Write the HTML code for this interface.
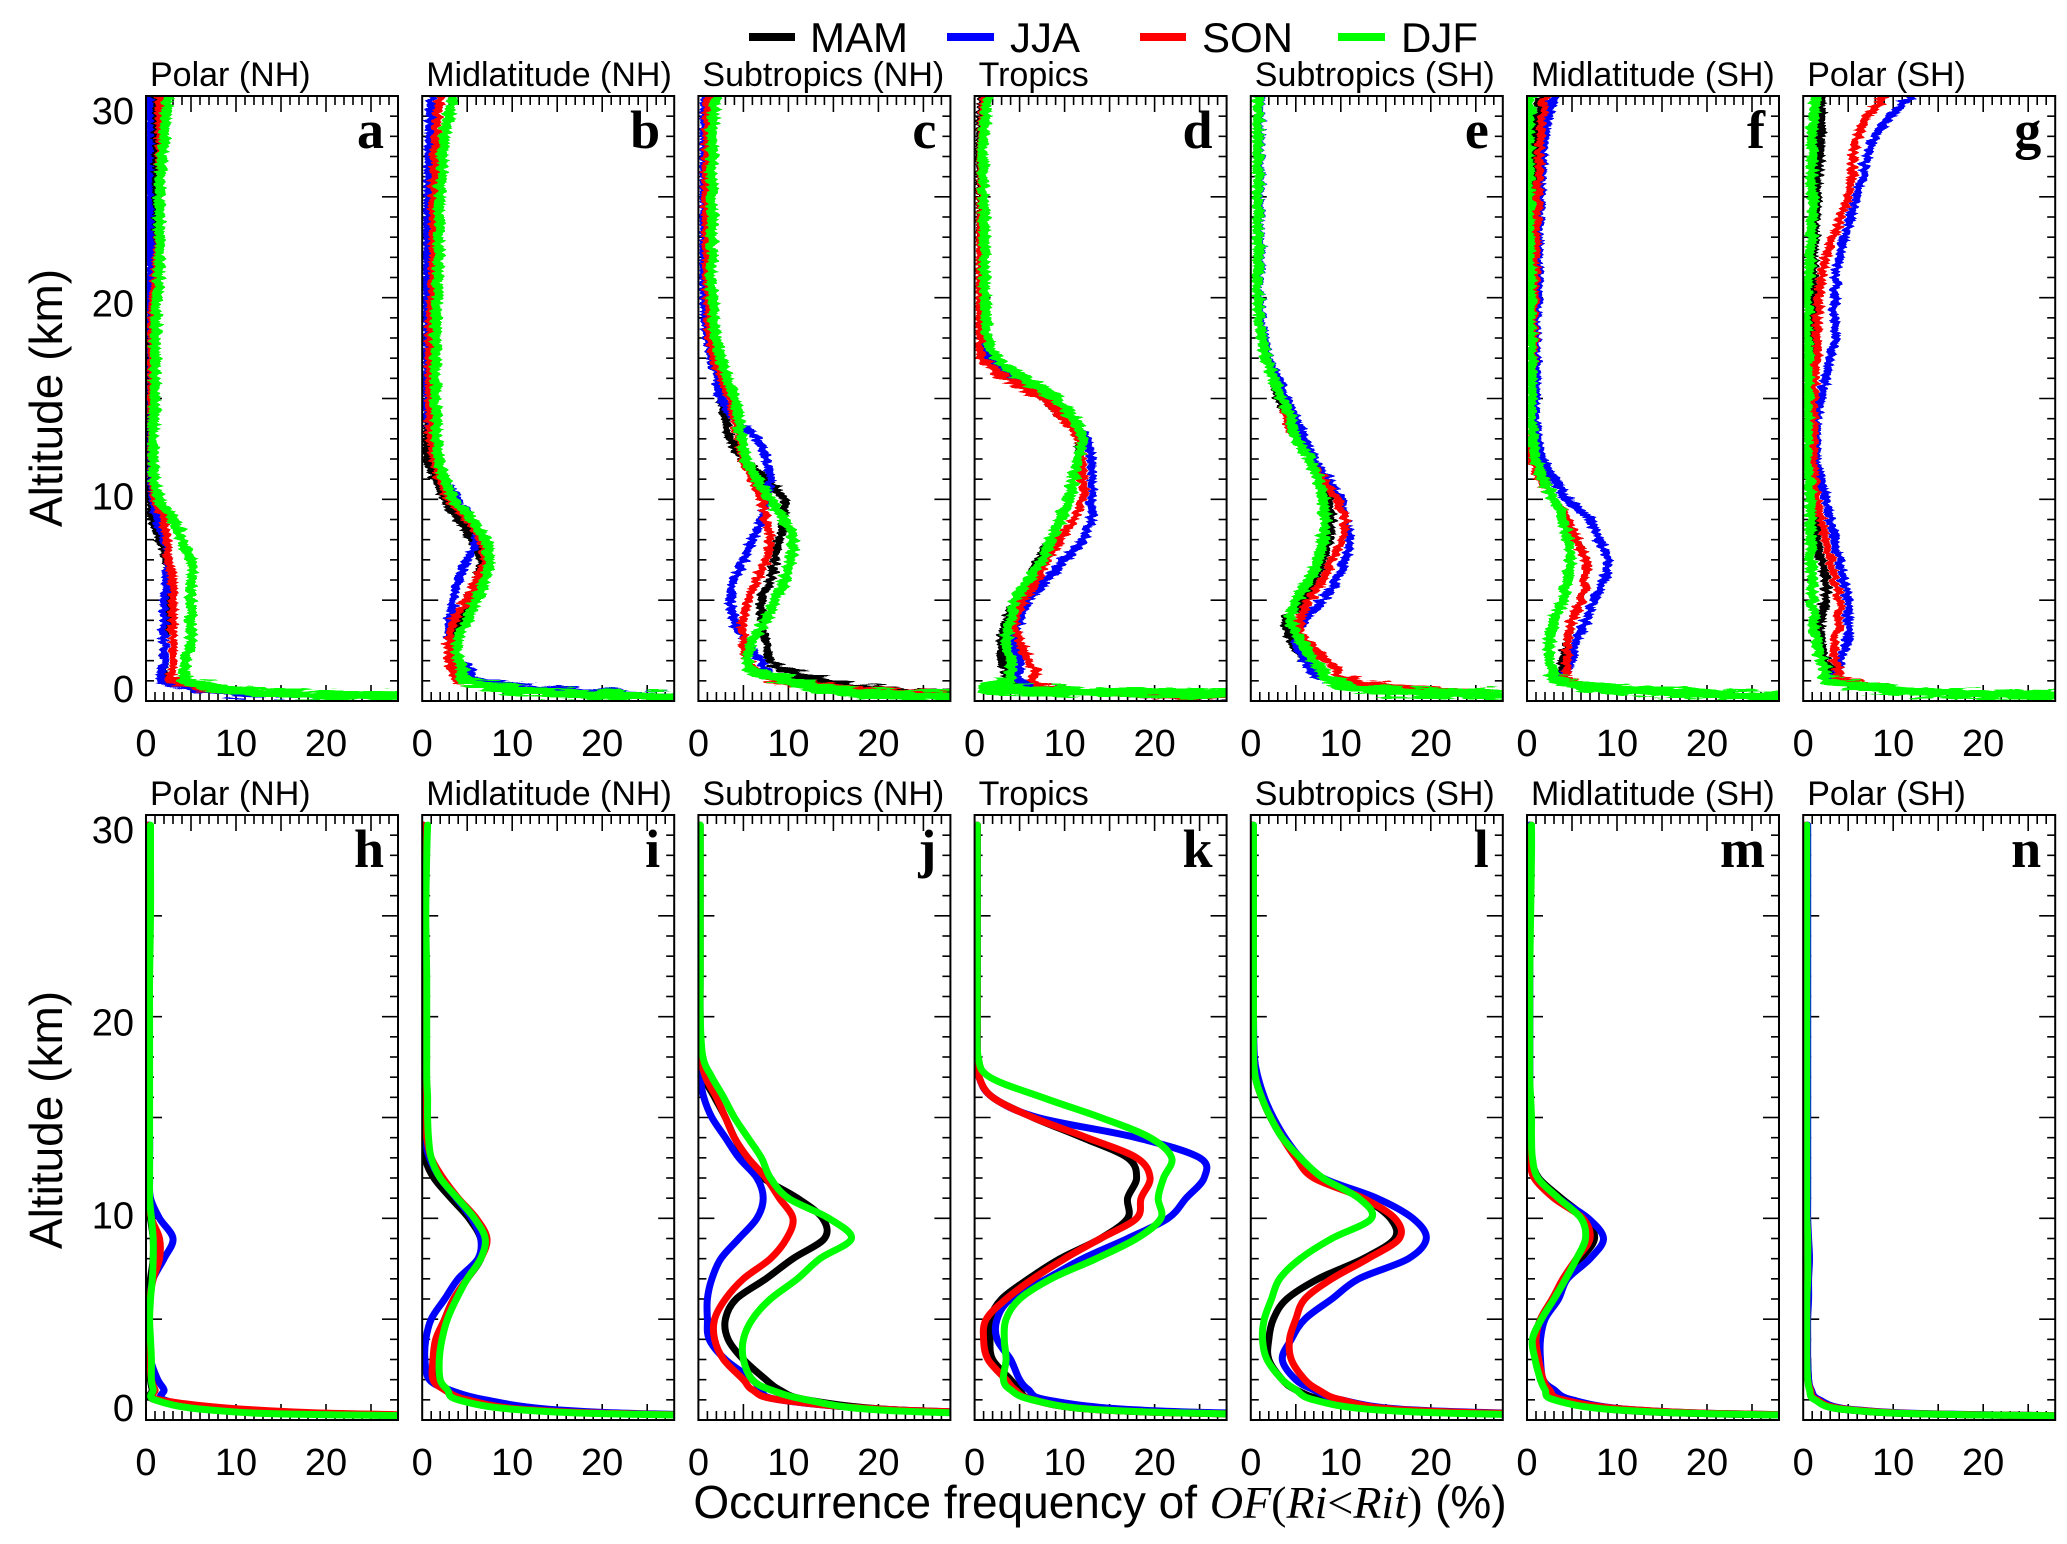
<!DOCTYPE html>
<html><head><meta charset="utf-8">
<style>
html,body{margin:0;padding:0;background:#fff;}
svg{display:block;font-family:"Liberation Sans",sans-serif;}
</style></head>
<body>
<svg id="fig" width="2067" height="1544" viewBox="0 0 2067 1544" xmlns="http://www.w3.org/2000/svg">
<defs>
<filter id="jag" x="-10%" y="-5%" width="120%" height="110%">
<feTurbulence type="fractalNoise" baseFrequency="0.04 0.35" numOctaves="2" seed="3" result="t"/>
<feDisplacementMap in="SourceGraphic" in2="t" scale="11" xChannelSelector="R" yChannelSelector="G"/>
</filter>
</defs>
<g id="legend">
<line x1="749" y1="37" x2="795" y2="37" stroke="#000" stroke-width="8"/>
<text x="810" y="52" font-size="42">MAM</text>
<line x1="947" y1="37" x2="994" y2="37" stroke="#0000ff" stroke-width="8"/>
<text x="1010" y="52" font-size="42">JJA</text>
<line x1="1140" y1="37" x2="1186" y2="37" stroke="#ff0000" stroke-width="8"/>
<text x="1202" y="52" font-size="42">SON</text>
<line x1="1338" y1="37" x2="1385" y2="37" stroke="#00ff00" stroke-width="8"/>
<text x="1401" y="52" font-size="42">DJF</text>
</g>
<text transform="translate(62,398) rotate(-90)" text-anchor="middle" font-size="46">Altitude (km)</text>
<text transform="translate(62,1120) rotate(-90)" text-anchor="middle" font-size="46">Altitude (km)</text>
<text x="1100" y="1518" text-anchor="middle" font-size="46">Occurrence frequency of <tspan font-family="Liberation Serif, serif" font-style="italic">OF</tspan><tspan font-family="Liberation Serif, serif">(</tspan><tspan font-family="Liberation Serif, serif" font-style="italic">Ri</tspan><tspan font-family="Liberation Serif, serif">&lt;</tspan><tspan font-family="Liberation Serif, serif" font-style="italic">Rit</tspan><tspan font-family="Liberation Serif, serif">)</tspan> (%)</text>
<g id="panels"></g>
</svg>
<script>
// Altitude levels (km)
const levelsTop = [0,0.25,0.5,1,1.5,2,3,4,5,6,7,8,9,10,11,12,13,14,15,16,17,18,20,22,25,28,30];
const levelsBot = [0,0.25,0.5,1,1.5,2,3,4,5,6,7,8,9,10,11,12,13,14,15,16,17,18,20,22,25,28,29.5];
const seasons = ["MAM","JJA","SON","DJF"];
const xTicks = [0,10,20];
const yTicks = [0,10,20,30];
const regionTitles = ["Polar (NH)","Midlatitude (NH)","Subtropics (NH)","Tropics","Subtropics (SH)","Midlatitude (SH)","Polar (SH)"];
const panelLetters = ["a","b","c","d","e","f","g","h","i","j","k","l","m","n"];

// Top row (raw)
const a_MAM=[80,22,10,3,2,2,2,2.3,2.5,2.5,2.3,1.5,0.7,0.4,0.3,0.3,0.3,0.3,0.3,0.3,0.3,0.3,0.4,0.5,0.6,0.8,1];
const a_JJA=[80,20,8,2,1.8,2,2,2,2,2.3,2.5,2,1.2,0.8,0.5,0.5,0.5,0.5,0.5,0.5,0.5,0.5,0.4,0.4,0.3,0.3,0.4];
const a_SON=[80,24,10,3,3,3,3,3,3,3,2.5,2.3,2,1,0.7,0.6,0.6,0.6,0.6,0.6,0.6,0.6,0.8,1.2,1.5,1.5,1.5];
const a_DJF=[80,25,11,4.5,4.5,4.5,5,5,5,5,5,4,3,1.5,0.9,0.8,0.8,0.8,1,1,1,1,1.2,1.5,1.5,2,2.5];
const b_MAM=[80,28,14,5,4.5,4,3.5,4,5,6,6.5,5.5,4,2.5,1.5,0.5,0.5,0.5,0.5,0.5,0.5,0.6,0.6,0.7,0.8,0.9,1];
const b_JJA=[80,32,16,6,5.5,4,3,3,3.5,4,5,6,5.5,4,2.5,1.5,1,0.6,0.5,0.5,0.5,0.5,0.5,0.5,0.6,0.8,1];
const b_SON=[80,26,12,4.5,3.5,3,3,3.5,5,6,7,6.5,5,3,2,1.3,0.9,0.8,0.8,0.8,0.8,0.8,1,1.2,1.2,1.5,2];
const b_DJF=[80,25,12,5,4.5,4,4,5,6,7,7.5,7,5.5,3.5,2.5,1.8,1.6,1.5,1.5,1.5,1.5,1.5,1.6,1.8,2,2.5,3.5];
const c_MAM=[80,40,22,14,10,8,7.5,7,7,8,8.5,9,9.5,9.5,7.5,5,3.5,3,2.5,2,1.5,1.2,1,1,1,1,1];
const c_JJA=[80,36,18,10,7.5,7,5,4,3.5,4,5,6,7,7.5,8,7.5,6.5,4,2.5,2,1.5,1,0.6,0.6,0.6,0.6,0.7];
const c_SON=[80,38,20,9,6.5,5.5,5,5,5.5,6.5,7.5,8,7.5,7,6,5,4.5,4,3.5,2.5,1.8,1.3,1,0.9,0.8,0.9,1];
const c_DJF=[80,30,16,10,6,5.5,6,7.5,8.5,9.5,10.3,10.5,9.5,8,6.5,5.3,4.8,4.5,4,3.2,2.5,2,1.5,1.5,1.5,1.5,2];
const d_MAM=[80,30,10,4,3.5,3,3,3.5,4.5,6,7,8.5,9.5,10.5,11,11.5,11.5,10,7.5,4,1.5,0.8,0.6,0.6,0.6,0.6,0.8];
const d_JJA=[80,30,10,5,5,5,4.5,5,6,8,10,12,13,13,13,13,12.5,10.5,7.5,4,1.2,0.8,0.7,0.7,0.8,0.8,1];
const d_SON=[80,30,10,6.5,7,6,5,4.5,5.5,7,8,9.5,11,12,12,12,11.5,10,7.5,3.5,0.8,0.6,0.6,0.6,0.7,0.8,1];
const d_DJF=[80,60,5.5,4,4,4,3.5,4,4.5,6,7.5,8.5,9.5,10.5,11,11.5,12,11,9,5.5,2.5,1.5,1.2,1.1,1,1,1.5];
const e_MAM=[80,35,16,9,7,6,4.5,4,6,7,8,8.5,9,8.5,7.5,6.5,5.5,4.5,3,2.5,1.8,1.2,0.8,0.8,0.8,0.8,0.8];
const e_JJA=[80,35,16,9,7,6,5,6,8,9.5,10.5,11,10.5,10,8.5,7,6,5,4,3,2,1.5,1,1,1,1,1];
const e_SON=[80,38,20,11,9.5,8.5,6,5.5,6.5,8,9,10,10.5,9.5,8,6.5,5,4,3.5,2.5,1.8,1.2,0.8,0.8,0.8,0.8,0.8];
const e_DJF=[80,35,15,9,8,7,5.5,4.5,5,6.5,7.5,8,8.3,8,7.5,6.5,5,4.5,3.5,2.5,1.8,1.2,0.8,0.8,0.8,0.8,0.8];
const f_MAM=[80,30,12,4,4,4,4.5,5,6,6.5,6.5,5.5,4,3,2,1.2,0.8,0.8,0.8,0.8,0.8,0.8,0.8,0.7,0.7,1,1.5];
const f_JJA=[80,30,12,4,4.5,5,5.5,6.5,7.5,8.5,9,8,7,4.5,3,1.8,1,1,1,1,1,1,1.2,1.3,1.5,2,3];
const f_SON=[80,30,12,4.5,4.5,4.5,4.5,5,6,6.5,6.5,5.5,4.5,3,1.5,0.5,0.3,0.4,0.5,0.6,0.7,0.8,0.8,1,1.2,1.5,2];
const f_DJF=[80,30,12,3.5,3,2.5,2.5,3,4,4.5,4.8,4.5,4,3,1.8,1,0.5,0.5,0.5,0.5,0.5,0.5,0.4,0.3,0.2,0.2,0.3];
const g_MAM=[80,30,12,4,3,2.5,2,2,2.5,2.5,2,1.5,1.3,1.2,1.1,1,1,1,1,1,1,1,1,1.2,1.5,2,2];
const g_JJA=[80,30,12,4,4,4,5,5,5,4.5,4,3.5,3,2.5,2,1.5,1.5,1.5,2,2.5,3,3.5,3.5,4,6,8,12];
const g_SON=[80,30,12,4.5,4,3.5,3.5,4,4,3.5,3,2.5,2,1.5,1.3,1.2,1.2,1.2,1.2,1.3,1.5,1.6,1.8,2.5,5,6,9];
const g_DJF=[80,30,11,3,2.5,2,1.5,1.2,1,1,0.8,0.8,0.8,0.8,0.6,0.5,0.5,0.5,0.5,0.5,0.5,0.5,0.5,0.8,1,1,1.5];
// Bottom row (smoothed)
const h_MAM=[80,25,8,1,0.7,0.5,0.4,0.3,0.3,0.3,0.5,0.8,0.8,0.5,0.3,0.3,0.3,0.3,0.3,0.3,0.3,0.3,0.3,0.3,0.3,0.3,0.3];
const h_JJA=[80,25,8,2,2,1.3,0.5,0.3,0.3,0.4,0.8,2,3,1.5,0.5,0.4,0.4,0.4,0.3,0.3,0.3,0.3,0.3,0.3,0.3,0.3,0.3];
const h_SON=[80,30,12,1.5,1,0.6,0.4,0.3,0.3,0.4,0.8,1.5,1.5,0.6,0.3,0.3,0.3,0.3,0.3,0.3,0.2,0.2,0.2,0.2,0.2,0.2,0.2];
const h_DJF=[80,22,7,1,0.8,0.6,0.6,0.5,0.4,0.5,0.7,0.8,0.8,0.6,0.4,0.4,0.4,0.4,0.4,0.4,0.4,0.4,0.4,0.4,0.5,0.5,0.5];
const i_MAM=[80,30,12,5,2.5,1.5,1.5,1.8,2.5,3.5,5,6.5,6.5,5.2,3.2,1.3,0.3,0.2,0.1,0.1,0.1,0.1,0.1,0.1,0.1,0.1,0.1];
const i_JJA=[80,32,15,7,3,0.8,0.3,0.4,1,2.5,4,6.2,6.5,5.5,3.8,2,0.8,0.3,0.2,0.1,0.1,0.1,0.1,0.1,0.1,0.1,0.1];
const i_SON=[80,30,12,5,2.5,1.2,1.2,1.5,2.5,3.5,5,6.5,7.2,6,4,2.3,1,0.5,0.3,0.2,0.1,0.1,0.1,0.1,0.1,0.1,0.1];
const i_DJF=[80,28,11,4,2.8,2,1.9,2.2,2.8,3.8,5,6.5,7,5.8,3.9,2,1,0.7,0.6,0.6,0.5,0.5,0.5,0.5,0.4,0.5,0.6];
const j_MAM=[80,42,22,12,9,7.5,5,3.3,3,4.2,7.5,10.5,14,13.8,11,7.2,5.3,4,3,1.8,0.6,0.3,0.2,0.2,0.2,0.2,0.2];
const j_JJA=[80,45,22,9,7,6,3,1.2,1,1,1.5,2.5,4.5,6.5,7.2,6.5,4.5,3,1.5,0.6,0.2,0.1,0.1,0.1,0.1,0.1,0.1];
const j_SON=[80,45,22,9,6,5,2.8,1.8,1.8,3,5,8,9.8,10.5,9,7.5,5.5,4,3,2,0.8,0.3,0.1,0.1,0.1,0.1,0.1];
const j_DJF=[80,40,20,12,8,6,5,5,6,8,11,13.5,17,14.5,10,8,7,5.5,4,2.8,1.5,0.5,0.2,0.2,0.2,0.2,0.2];
const k_MAM=[80,35,14,6.5,5,4,2,1.7,1.7,3,6,9.5,14,17,17,18,17,12,6.5,2,0.5,0.3,0.3,0.3,0.3,0.3,0.3];
const k_JJA=[80,40,18,8,6,5,4,2.5,2.5,4,8,12,17,21.5,23.5,25.5,25,18,7,2,0.5,0.3,0.3,0.3,0.3,0.3,0.3];
const k_SON=[80,35,14,6.5,4.5,3.5,1.5,1,1.3,3.5,6.5,10,14,18,18.5,19.5,18,12.5,6.5,2,0.5,0.3,0.3,0.3,0.3,0.3,0.3];
const k_DJF=[80,35,14,6.4,4,3.2,3.5,3.3,3.5,5,8.5,13.5,18,20.7,20.4,21,21.9,19.5,14,7.5,1.7,0.4,0.3,0.3,0.3,0.3,0.3];
const l_MAM=[80,35,15,8,5,3.5,2,2,2.5,4,7.5,12.5,16,15.5,12.5,7.7,5.5,3.5,2.2,1.2,0.5,0.3,0.2,0.2,0.2,0.2,0.2];
const l_JJA=[80,40,18,10,7,5,3.5,4.5,6,9,12,17.5,19.5,18,14,8,5.5,3.8,2.5,1.5,0.8,0.4,0.3,0.3,0.3,0.3,0.3];
const l_SON=[80,38,17,10,7.5,6,4.5,4.3,5,6,9,13,16.5,16,12.5,7,5,3.5,2.2,1.2,0.5,0.3,0.2,0.2,0.2,0.2,0.2];
const l_DJF=[80,32,14,7,5,3.5,1.8,1.3,1.5,2.3,3.2,5.5,9,13.4,12,8,5.5,3.5,2.2,1.2,0.5,0.3,0.3,0.3,0.3,0.3,0.3];
const m_MAM=[80,28,10,4,2.5,1.5,1.2,1,1.5,3,4.2,6,7.5,6.5,3.8,1.3,0.5,0.3,0.3,0.3,0.3,0.3,0.3,0.3,0.3,0.3,0.3];
const m_JJA=[80,30,12,5,3,1.8,1.5,1.5,2,3.5,4.5,7,8.5,6.8,3.5,1.2,0.5,0.4,0.3,0.3,0.3,0.3,0.3,0.3,0.3,0.3,0.3];
const m_SON=[80,30,12,4,2.5,1.8,1.3,1,1.5,2.8,4,5.5,7,6.2,3,0.8,0.3,0.2,0.2,0.2,0.2,0.2,0.2,0.2,0.3,0.4,0.5];
const m_DJF=[80,28,10,3,2,1.5,0.9,0.6,1.6,3,4.3,5.5,6.5,6,3.5,1.2,0.6,0.5,0.5,0.4,0.3,0.3,0.3,0.3,0.4,0.5,0.5];
const n_MAM=[80,20,5,1.5,0.8,0.6,0.5,0.4,0.4,0.4,0.4,0.5,0.5,0.4,0.4,0.4,0.4,0.4,0.4,0.4,0.4,0.4,0.4,0.4,0.4,0.4,0.4];
const n_JJA=[80,22,6,1.8,0.9,0.6,0.5,0.5,0.5,0.6,0.6,0.7,0.6,0.5,0.5,0.5,0.5,0.5,0.5,0.5,0.5,0.5,0.5,0.5,0.5,0.5,0.5];
const n_SON=[80,21,5.5,1.5,0.8,0.5,0.4,0.4,0.4,0.4,0.5,0.5,0.5,0.4,0.3,0.3,0.3,0.3,0.3,0.3,0.3,0.3,0.3,0.3,0.3,0.3,0.3];
const n_DJF=[80,20,5,1.3,0.7,0.5,0.4,0.4,0.4,0.4,0.5,0.5,0.5,0.4,0.4,0.4,0.4,0.4,0.4,0.4,0.4,0.4,0.4,0.4,0.4,0.4,0.4];

const panelSeries = [
 [a_MAM,a_JJA,a_SON,a_DJF],[b_MAM,b_JJA,b_SON,b_DJF],[c_MAM,c_JJA,c_SON,c_DJF],[d_MAM,d_JJA,d_SON,d_DJF],
 [e_MAM,e_JJA,e_SON,e_DJF],[f_MAM,f_JJA,f_SON,f_DJF],[g_MAM,g_JJA,g_SON,g_DJF],
 [h_MAM,h_JJA,h_SON,h_DJF],[i_MAM,i_JJA,i_SON,i_DJF],[j_MAM,j_JJA,j_SON,j_DJF],[k_MAM,k_JJA,k_SON,k_DJF],
 [l_MAM,l_JJA,l_SON,l_DJF],[m_MAM,m_JJA,m_SON,m_DJF],[n_MAM,n_JJA,n_SON,n_DJF]
];

const NS="http://www.w3.org/2000/svg";
const colors={MAM:"#000000",JJA:"#0000ff",SON:"#ff0000",DJF:"#00ff00"};
const PX0=146, PSTEP=276.2, PW=252, XMAX=28;
const rowTop=[96,815], PH=605, YMAX=30;
const root=document.getElementById("panels");
function el(tag,attrs,parent){const e=document.createElementNS(NS,tag);for(const k in attrs)e.setAttribute(k,attrs[k]);(parent||root).appendChild(e);return e;}
function smoothPath(pts){
  let d="M"+pts[0][0].toFixed(1)+","+pts[0][1].toFixed(1);
  for(let i=0;i<pts.length-1;i++){
    const p0=pts[Math.max(0,i-1)],p1=pts[i],p2=pts[i+1],p3=pts[Math.min(pts.length-1,i+2)];
    const c1=[p1[0]+(p2[0]-p0[0])/6,p1[1]+(p2[1]-p0[1])/6];
    const c2=[p2[0]-(p3[0]-p1[0])/6,p2[1]-(p3[1]-p1[1])/6];
    d+="C"+c1[0].toFixed(1)+","+c1[1].toFixed(1)+" "+c2[0].toFixed(1)+","+c2[1].toFixed(1)+" "+p2[0].toFixed(1)+","+p2[1].toFixed(1);
  }
  return d;
}
for(let p=0;p<14;p++){
  const row=p<7?0:1, col=p%7;
  const L=PX0+col*PSTEP, T=rowTop[row], B=T+PH, R=L+PW;
  const xs=v=>L+v/XMAX*PW;
  const ys=a=>B-a/YMAX*PH;
  const levels=row===0?levelsTop:levelsBot;
  const g=el("g",{});
  
  
  const cp=el("clipPath",{id:"clip"+p},g);
  el("rect",{x:L,y:T,width:PW,height:PH},cp);
  const title=el("text",{x:L+4,y:T-10,"font-size":34},g);
  title.textContent=regionTitles[col];
  
  
  const tk=el("g",{stroke:"#000","stroke-width":1.6},g);
  
  
  for(let v=1;v<XMAX;v++){
    const len=v%5===0?16:9, x=xs(v);
    el("line",{x1:x,y1:B,x2:x,y2:B-len},tk);
    el("line",{x1:x,y1:T,x2:x,y2:T+len},tk);
  }
  for(let a=1;a<YMAX;a++){
    const len=a%5===0?16:8, y=ys(a);
    el("line",{x1:R,y1:y,x2:R-len,y2:y},tk);
    el("line",{x1:L,y1:y,x2:L+len,y2:y},tk);
  }
  const cg=el("g",{"clip-path":"url(#clip"+p+")"},g);
  const fg=el("g",row===0?{filter:"url(#jag)"}:{},cg);
  panelSeries[p].forEach((vals,si)=>{
    const pts=vals.map((v,i)=>[xs(v),ys(levels[i])]);
    const path=el("path",{d:smoothPath(pts),fill:"none",stroke:colors[seasons[si]],"stroke-width":row===0?(si===3?10:8):7,"stroke-linejoin":"round","stroke-linecap":"round"},fg);
    
    
  });
  const frame=el("rect",{x:L,y:T,width:PW,height:PH,fill:"none",stroke:"#000","stroke-width":2},g);
  
  
  const letter=el("text",{x:R-14,y:T+52,"text-anchor":"end","font-size":54,"font-weight":"bold","font-family":"Liberation Serif, serif"},g);
  letter.textContent=panelLetters[p];
  
  
  xTicks.forEach(v=>{
    const t=el("text",{x:xs(v),y:B+55,"text-anchor":"middle","font-size":38},g);
    t.textContent=v;
    
    
  });
  if(col===0){
    yTicks.forEach(a=>{
      const t=el("text",{x:L-12,y:(B-12)-a*19.27+13,"text-anchor":"end","font-size":38},g);
      t.textContent=a;
      
      
    });
  }
}
</script>
</body></html>
